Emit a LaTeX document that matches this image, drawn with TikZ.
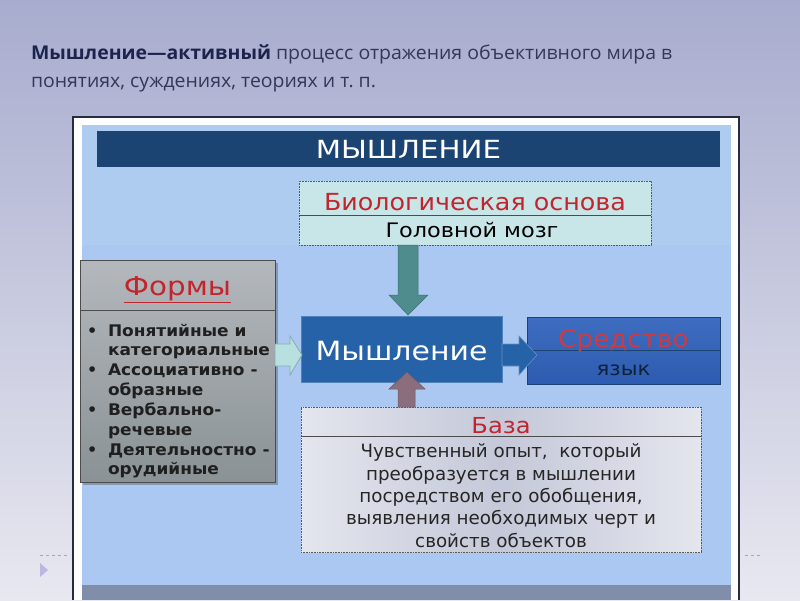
\documentclass[tikz,border=0pt]{standalone}
\usepackage{graphicx}
\usepackage{fontspec}
\setmainfont{DejaVu Sans}
\newfontfamily\hdr{Open Sans}
\usetikzlibrary{calc}
\definecolor{bgtop}{RGB}{168,172,206}
\definecolor{bgbot}{RGB}{232,232,240}
\definecolor{frame}{RGB}{40,44,64}
\definecolor{panel}{RGB}{170,200,242}
\definecolor{paneltop}{RGB}{174,204,240}
\definecolor{navy}{RGB}{27,68,114}
\definecolor{hdrtxt}{RGB}{52,56,88}
\definecolor{hdrbold}{RGB}{28,36,78}
\definecolor{biofill}{RGB}{200,230,232}
\definecolor{redtxt}{RGB}{196,36,44}
\definecolor{teal}{RGB}{78,140,142}
\definecolor{greytop}{RGB}{180,184,188}
\definecolor{greybot}{RGB}{138,146,150}
\definecolor{lightar}{RGB}{184,224,224}
\definecolor{midblue}{RGB}{38,98,168}
\definecolor{sredblue}{RGB}{46,96,186}
\definecolor{mauve}{RGB}{138,110,126}
\definecolor{basefill}{RGB}{228,230,238}
\definecolor{basemid}{RGB}{196,200,216}
\definecolor{strip}{RGB}{128,142,170}
\newcommand{\sx}[2]{\scalebox{#1}[1]{#2}}
\tikzset{
  box/.style={anchor=north west, inner sep=0pt, outer sep=0pt},
  txt/.style={inner sep=0pt, outer sep=0pt, anchor=base},
  dashbox/.style={draw=gray!70!black, densely dotted, line width=0.6pt},
  divider/.style={draw=black!70, line width=0.8pt},
}
\begin{document}
\begin{tikzpicture}[x=1pt,y=-1pt]
\useasboundingbox (0,0) rectangle (800,600);
\shade[top color=bgtop,bottom color=bgbot] (0,0) rectangle (800,600);
% header text
\node[txt, anchor=base west, text=hdrtxt] (h1) at (31,59) {\hdr\fontsize{19}{22}\selectfont\sx{1.024}{\textcolor{hdrbold}{\bfseries Мышление—активный} процесс отражения объективного мира в}};
\node[txt, anchor=base west, text=hdrtxt] (h2) at (31,87) {\hdr\fontsize{19}{22}\selectfont\sx{1.024}{понятиях, суждениях, теориях и т.~п.}};
% slide decorations
\draw[gray!70, dashed, line width=0.5pt] (40,555) -- (70,555);
\draw[gray!70, dashed, line width=0.5pt] (745,555) -- (762,555);
\fill[gray!60!blue!40] (40,563) -- (48,570) -- (40,577) -- cycle;
% frame
\fill[white] (73,117) rectangle (739,600);
\draw[frame, line width=2pt] (73,600) -- (73,117) -- (739,117) -- (739,600);
\fill[panel] (82,125) rectangle (731,600);
\fill[paneltop] (82,125) rectangle (731,245);
\fill[strip] (82,585) rectangle (731,600);
% title bar
\node[box, fill=navy, minimum width=623, minimum height=36] (title) at (97,131) {};
\node[txt, text=white] at ($(title.center)+(0,9)$) {\fontsize{25}{30}\selectfont\sx{1.17}{МЫШЛЕНИЕ}};
% bio box
\node[box, fill=biofill, dashbox, minimum width=352, minimum height=64] (bio) at (299,181) {};
\draw[divider] (bio.west |- 0,215) -- (bio.east |- 0,215);
\node[txt, text=redtxt] at ($(bio.north)+(0,29)$) {\fontsize{23.5}{26}\selectfont\sx{1.08}{Биологическая основа}};
\node[txt, text=black] at ($(bio.north)+(-3,56)$) {\fontsize{20}{22}\selectfont\sx{1.12}{Головной мозг}};
% forms box
\fill[gray!50!black, opacity=0.35] (83,263) rectangle (278,485);
\shade[top color=greytop, bottom color=greybot] (80,260) rectangle (275,482);
\node[box, draw=gray!60!black, line width=0.5pt, minimum width=195, minimum height=222] (forms) at (80,260) {};
\draw[divider] (80,310) -- (275,310);
\node[txt, text=redtxt] at ($(forms.north)+(0,35)$) {\fontsize{26}{30}\selectfont\sx{1.13}{\underline{Формы}}};
\begin{scope}[every node/.style={txt, anchor=base west, text=black!88}]
\def\fl{\fontsize{16}{18}\selectfont\bfseries}
\node at (87,336) {\fl •};
\node at (108,336) {\fl\sx{1.06}{Понятийные и}};
\node at (108,355) {\fl\sx{1.06}{категориальные}};
\node at (87,375) {\fl •};
\node at (108,375) {\fl\sx{1.06}{Ассоциативно -}};
\node at (108,395) {\fl\sx{1.06}{образные}};
\node at (87,415) {\fl •};
\node at (108,415) {\fl\sx{1.06}{Вербально-}};
\node at (108,435) {\fl\sx{1.06}{речевые}};
\node at (87,455) {\fl •};
\node at (108,455) {\fl\sx{1.06}{Деятельностно -}};
\node at (108,474) {\fl\sx{1.06}{орудийные}};
\end{scope}
% central box
\node[box, fill=midblue, draw=midblue!80!white, line width=0.6pt, minimum width=201, minimum height=66] (main) at (301,316) {};
\node[txt, text=white] at ($(main.center)+(0,11)$) {\fontsize{26.5}{30}\selectfont\sx{1.13}{Мышление}};
% sredstvo box
\shade[top color=sredblue!92!white, bottom color=sredblue!95!black] (527,317) rectangle (720,384);
\node[box, draw=navy, line width=0.8pt, minimum width=193, minimum height=67] (sred) at (527,317) {};
\draw[draw=navy, line width=1pt] (527,350) -- (720,350);
\node[txt, text=redtxt!85!pink] at ($(sred.north)+(0,30)$) {\fontsize{24}{28}\selectfont\sx{1.09}{Средство}};
\node[txt, text=navy!50!black] at ($(sred.north)+(0,58)$) {\fontsize{19}{22}\selectfont\sx{1.12}{язык}};
% base box
\shade[left color=basefill, right color=basefill, middle color=basemid] (301,407) rectangle (701,552);
\node[box, dashbox, minimum width=400, minimum height=145] (base) at (301,407) {};
\draw[divider] (301,436) -- (701,436);
\node[txt, text=redtxt] at ($(base.north)+(0,26)$) {\fontsize{22}{26}\selectfont\sx{1.1}{База}};
\node[txt, text=black!85, align=center, anchor=north, font=\fontsize{18.3}{22.3}\selectfont] at ($(base.north)+(0,37)$) {Чувственный опыт,\ \ который\\ преобразуется в мышлении\\ посредством его обобщения,\\ выявления необходимых черт и\\ свойств объектов};
% arrows
\draw[fill=teal, draw=teal!80!black, line width=0.5pt] (398,245) -- (418,245) -- (418,295) -- (428,295) -- (408,315) -- (389,295) -- (398,295) -- cycle;
\draw[fill=mauve, draw=mauve!80!black, line width=0.5pt] (398,407) -- (415,407) -- (415,389) -- (425,389) -- (407,372) -- (389,389) -- (398,389) -- cycle;
\draw[fill=lightar, draw=teal!70!white, line width=0.8pt] (275,344) -- (290,344) -- (290,336) -- (302,355) -- (290,375) -- (290,366) -- (275,366) -- cycle;
\draw[fill=midblue, draw=midblue!70!white, line width=0.6pt] (502,344) -- (519,344) -- (519,336) -- (537,355) -- (519,375) -- (519,366) -- (502,366) -- cycle;
\end{tikzpicture}
\end{document}
